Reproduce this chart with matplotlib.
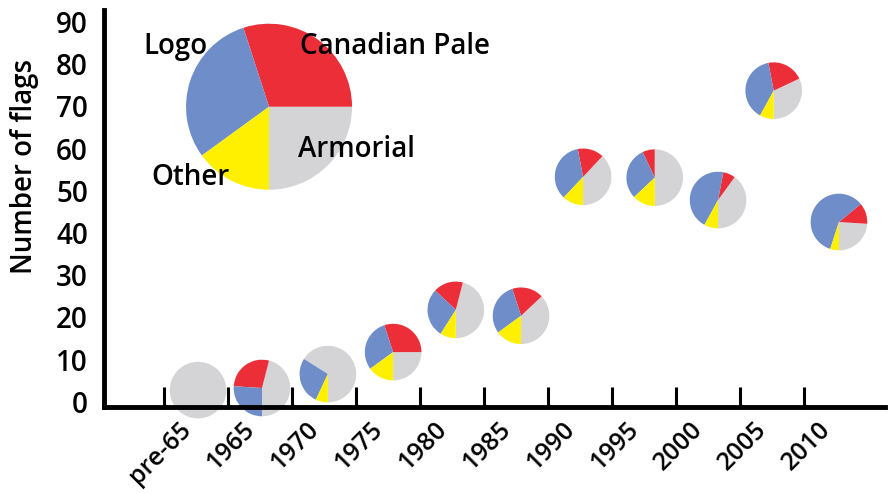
import matplotlib.pyplot as plt
from matplotlib.transforms import ScaledTranslation

# --- data ---
periods = ['pre-65', '1965', '1970', '1975', '1980', '1985',
           '1990', '1995', '2000', '2005', '2010']
pie_x = [0.53, 1.53, 2.56, 3.58, 4.56, 5.58, 6.55, 7.67, 8.66, 9.53, 10.55]
n_flags = [2.8, 3.3, 6.6, 11.8, 21.8, 20.4, 53.3, 53.1, 47.8, 73.7, 42.6]

# shares per period, in percent
armorial = [100, 46, 66, 25, 46, 37, 38, 50, 40, 32, 24]
canadian_pale = [0, 28, 0, 30, 17, 18, 15, 7, 7, 21, 12]
logo = [0, 26, 27, 30, 28, 30, 35, 30, 45, 39, 59]
other = [0, 0, 7, 15, 9, 15, 12, 13, 8, 8, 5]

key_shares = [25, 30, 30, 15]  # armorial, canadian pale, logo, other

colors = ['#D4D4D6', '#EC2E39', '#6E8DC9', '#FFF000']
FS = 20

plt.rcParams['font.family'] = ['Open Sans', 'DejaVu Sans']
plt.rcParams['font.weight'] = 'semibold'

fig = plt.figure(figsize=(8.91, 4.93), dpi=100)
fig.patch.set_facecolor('white')
ax = fig.add_axes([104 / 891, 1 - 407 / 493, 781 / 891, 397 / 493])
ax.set_zorder(2)
ax.patch.set_visible(False)

ax.set_xlim(-0.94, 11.27)
ax.set_ylim(-1.2, 92.8)

ax.tick_params(axis='x', direction='in', length=14.4, width=2.2, pad=0)
ax.tick_params(axis='y', length=0, pad=11.5, labelsize=FS)
ax.set_xticks(range(len(periods)))
ax.set_xticklabels(periods, rotation=45, ha='right', va='top',
                   rotation_mode='anchor', fontsize=18)
ax.set_yticks(range(0, 100, 10))

shift = ScaledTranslation(14 / 100, -10 / 100, fig.dpi_scale_trans)
for lab in ax.get_xticklabels():
    lab.set_transform(lab.get_transform() + shift)

for side in ['top', 'right']:
    ax.spines[side].set_visible(False)
for side in ['left', 'bottom']:
    ax.spines[side].set_linewidth(3.5)

fig.text(25 / 891, 1 - 166 / 493, 'Number of flags', rotation=90,
         ha='center', va='center', fontsize=FS)


def draw_pie(x, y, shares, r_px):
    cx, cy = ax.transData.transform((x, y))
    inv = fig.transFigure.inverted()
    x0, y0 = inv.transform((cx - r_px, cy - r_px))
    x1, y1 = inv.transform((cx + r_px, cy + r_px))
    pax = fig.add_axes([x0, y0, x1 - x0, y1 - y0], zorder=1)
    pax.pie(shares, colors=colors, startangle=270, counterclock=True,
            wedgeprops=dict(linewidth=0))
    pax.set_xlim(-1, 1)
    pax.set_ylim(-1, 1)
    pax.axis('off')


for i in range(len(periods)):
    shares = [armorial[i], canadian_pale[i], logo[i], other[i]]
    draw_pie(pie_x[i], n_flags[i], shares, 28.3)

# key pie
draw_pie(1.64, 69.9, key_shares, 83)
ax.text(0.17, 84.1, 'Logo', ha='center', va='center', fontsize=FS)
ax.text(3.61, 84.1, 'Canadian Pale', ha='center', va='center', fontsize=FS)
ax.text(3.0, 59.7, 'Armorial', ha='center', va='center', fontsize=FS)
ax.text(0.42, 53.1, 'Other', ha='center', va='center', fontsize=FS)

fig.savefig('out.png', dpi=100)
